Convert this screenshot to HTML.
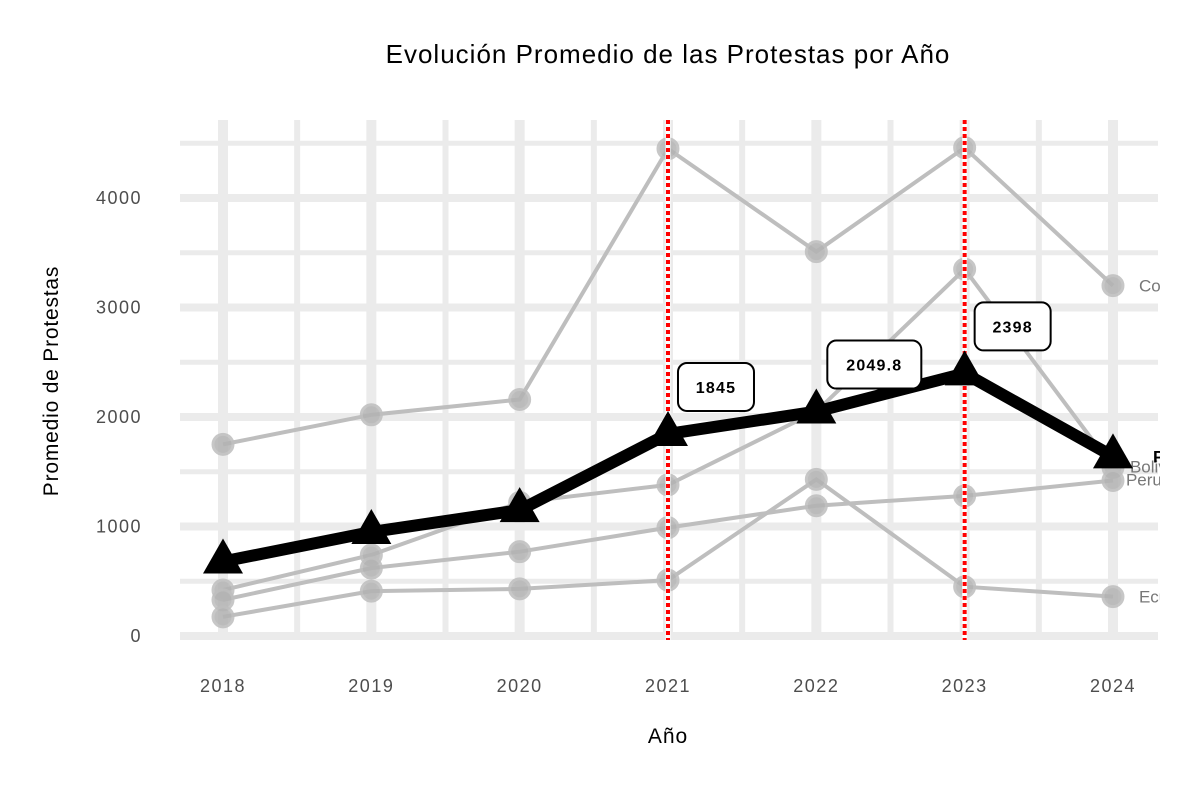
<!DOCTYPE html>
<html><head><meta charset="utf-8"><style>
body{margin:0;background:#fff;font-family:"Liberation Sans",Arial,sans-serif;}
svg text{font-family:"Liberation Sans",Arial,sans-serif;}
</style></head><body>
<svg id="chart" width="1200" height="800" viewBox="0 0 1200 800">
<defs><clipPath id="clip"><rect x="0" y="100" width="1160" height="560"/></clipPath></defs>
<text x="668" y="63" text-anchor="middle" font-size="26" letter-spacing="1" fill="#000">Evolución Promedio de las Protestas por Año</text>
<text x="668" y="743" text-anchor="middle" font-size="21" letter-spacing="1" fill="#000">Año</text>
<text transform="translate(58,381) rotate(-90)" text-anchor="middle" font-size="21" letter-spacing="0.8" fill="#000">Promedio de Protestas</text>
<g id="grid"></g><g id="axes"></g><g id="marks" clip-path="url(#clip)"></g>
</svg>
<script>
const years=[2018,2019,2020,2021,2022,2023,2024];
const yTicks=[0,1000,2000,3000,4000];
const colombia=[1750,2020,2160,4450,3510,4460,3200];
const bolivia=[420,740,1220,1380,2050,3350,1540];
const peru=[330,620,770,990,1190,1280,1420];
const ecuador=[175,410,430,510,1430,450,360];
const promedio=[680,950,1150,1845,2049.8,2398,1640];
const highlightYears=[2021,2023];
const labelYears=[2021,2022,2023];
const labelTexts=["1845","2049.8","2398"];
const seriesNames=["Colombia","Bolivia","Peru","Ecuador"];
const NS="http://www.w3.org/2000/svg";
const X=y=>223+(y-2018)*148.33;
const Y=v=>636-v*0.1095;
function mk(tag,attrs,parent){const e=document.createElementNS(NS,tag);for(const k in attrs)e.setAttribute(k,attrs[k]);parent.appendChild(e);return e;}
const grid=document.getElementById('grid'),axes=document.getElementById('axes'),marks=document.getElementById('marks');
for(let v=0;v<=4500;v+=500){const major=v%1000===0;
const l=mk('line',{x1:180,x2:1158,y1:Y(v),y2:Y(v),stroke:'#ebebeb','stroke-width':major?8:5},grid);
}
for(let i=0;i<years.length;i++){
const l=mk('line',{x1:X(years[i]),x2:X(years[i]),y1:120,y2:640,stroke:'#ebebeb','stroke-width':10},grid);

if(i<years.length-1){const m=mk('line',{x1:X(years[i]+0.5),x2:X(years[i]+0.5),y1:120,y2:640,stroke:'#ebebeb','stroke-width':6},grid);
}
const t=mk('text',{x:X(years[i]),y:692,'text-anchor':'middle','font-size':18,'letter-spacing':1.5,fill:'#4d4d4d'},axes);t.textContent=years[i];
}
yTicks.forEach(v=>{const t=mk('text',{x:142,y:Y(v)+6,'text-anchor':'end','font-size':18,'letter-spacing':1.5,fill:'#4d4d4d'},axes);t.textContent=v;
});
[colombia,bolivia,peru,ecuador].forEach((s,k)=>{
const p=mk('polyline',{points:s.map((v,i)=>X(years[i])+','+Y(v)).join(' '),fill:'none',stroke:'#bebebe','stroke-width':4},marks);

s.forEach((v,i)=>{const c=mk('circle',{cx:X(years[i]),cy:Y(v),r:10,fill:'#b3b3b3',stroke:'#bebebe','stroke-width':3,opacity:0.85},marks);
});
const lastV=s[s.length-1];
const nm=seriesNames[k];
const dx=nm==='Bolivia'?17:nm==='Peru'?13:26;
const dy=nm==='Bolivia'?-1:nm==='Peru'?-1:0;
const t=mk('text',{x:X(2024)+dx,y:Y(lastV)+6+dy,'font-size':17,fill:'#777'},marks);t.textContent=nm;
});
highlightYears.forEach(y=>{
const l=mk('line',{x1:X(y),x2:X(y),y1:120,y2:640,stroke:'#ffffff','stroke-width':5},marks);
const r=mk('line',{x1:X(y),x2:X(y),y1:120,y2:640,stroke:'#ff0000','stroke-width':4,'stroke-dasharray':'4 3'},marks);
});
const pl=mk('polyline',{points:promedio.map((v,i)=>X(years[i])+','+Y(v)).join(' '),fill:'none',stroke:'#000','stroke-width':12,'stroke-linejoin':'round'},marks);

promedio.forEach((v,i)=>{const x=X(years[i]),y=Y(v);
const tr=mk('polygon',{points:`${x},${y-23} ${x-20},${y+12} ${x+20},${y+12}`,fill:'#000'},marks);
});
const pt=mk('text',{x:X(2024)+40,y:Y(promedio[6])+6,'font-size':17,'font-weight':'bold',fill:'#000'},marks);pt.textContent='Promedio';

labelYears.forEach((yr,k)=>{const i=years.indexOf(yr);const cx=X(yr)+48+(k===1?10:0),cy=Y(promedio[i])-47;
const w=labelTexts[k].length>4?94:76;
const g=mk('g',{},marks);
mk('rect',{x:cx-w/2,y:cy-24,width:w,height:48,rx:9,fill:'#fff',stroke:'#000','stroke-width':2},g);
const t=mk('text',{x:cx,y:cy+6,'text-anchor':'middle','font-size':16,'letter-spacing':1.2,'font-weight':'bold',fill:'#000'},g);t.textContent=labelTexts[k];});
</script>
</body></html>
